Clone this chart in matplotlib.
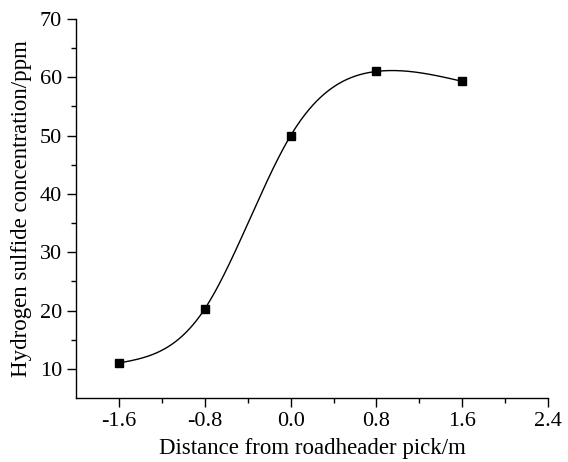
import numpy as np
import matplotlib
matplotlib.use("Agg")
import matplotlib.pyplot as plt
from matplotlib.ticker import FixedLocator

x = [-1.6, -0.8, 0.0, 0.8, 1.6]
y = [11.0, 20.3, 50.0, 61.0, 59.3]
xticks = [-1.6, -0.8, 0.0, 0.8, 1.6, 2.4]
yticks = [10, 20, 30, 40, 50, 60, 70]
xminor = [-1.2, -0.4, 0.4, 1.2, 2.0]
yminor = [15, 25, 35, 45, 55, 65]

def natural_spline(xs, ys, xq):
    xs = np.asarray(xs, float); ys = np.asarray(ys, float)
    n = len(xs)
    h = np.diff(xs)
    A = np.zeros((n, n)); b = np.zeros(n)
    A[0, 0] = 1; A[-1, -1] = 1
    for i in range(1, n - 1):
        A[i, i - 1] = h[i - 1]
        A[i, i] = 2 * (h[i - 1] + h[i])
        A[i, i + 1] = h[i]
        b[i] = 6 * ((ys[i + 1] - ys[i]) / h[i] - (ys[i] - ys[i - 1]) / h[i - 1])
    M = np.linalg.solve(A, b)
    out = np.empty_like(xq)
    for k, t in enumerate(xq):
        i = min(max(np.searchsorted(xs, t) - 1, 0), n - 2)
        a = xs[i + 1] - t; c = t - xs[i]
        out[k] = (M[i] * a**3 + M[i + 1] * c**3) / (6 * h[i]) \
            + (ys[i] / h[i] - M[i] * h[i] / 6) * a \
            + (ys[i + 1] / h[i] - M[i + 1] * h[i] / 6) * c
    return out

plt.rcParams['font.family'] = ['Liberation Serif', 'DejaVu Serif']
fig = plt.figure(figsize=(5.68, 4.62), dpi=100)
ax = fig.add_axes([0.134, 0.1385, 0.831, 0.8205])

xs = np.linspace(x[0], x[-1], 400)
ax.plot(xs, natural_spline(x, y, xs), color='black', lw=1.0)
ax.plot(x, y, 's', color='black', ms=5.8)

ax.set_xlim(-2.0, 2.4)
ax.set_ylim(5, 70)
ax.set_xticks(xticks)
ax.set_xticklabels([f"{v:.1f}" for v in xticks])
ax.set_yticks(yticks)
ax.xaxis.set_minor_locator(FixedLocator(xminor))
ax.yaxis.set_minor_locator(FixedLocator(yminor))
for s in ['top', 'right']:
    ax.spines[s].set_visible(False)
for s in ['left', 'bottom']:
    ax.spines[s].set_linewidth(1.0)
ax.tick_params(axis='both', which='major', direction='out', length=6.5, width=1.0, labelsize=16)
ax.tick_params(axis='both', which='minor', direction='out', length=3.5, width=1.0)
ax.set_xlabel('Distance from roadheader pick/m', fontsize=16.5, labelpad=5)
ax.set_ylabel('Hydrogen sulfide concentration/ppm', fontsize=16.5, labelpad=6)

fig.savefig('out.png', dpi=100)
